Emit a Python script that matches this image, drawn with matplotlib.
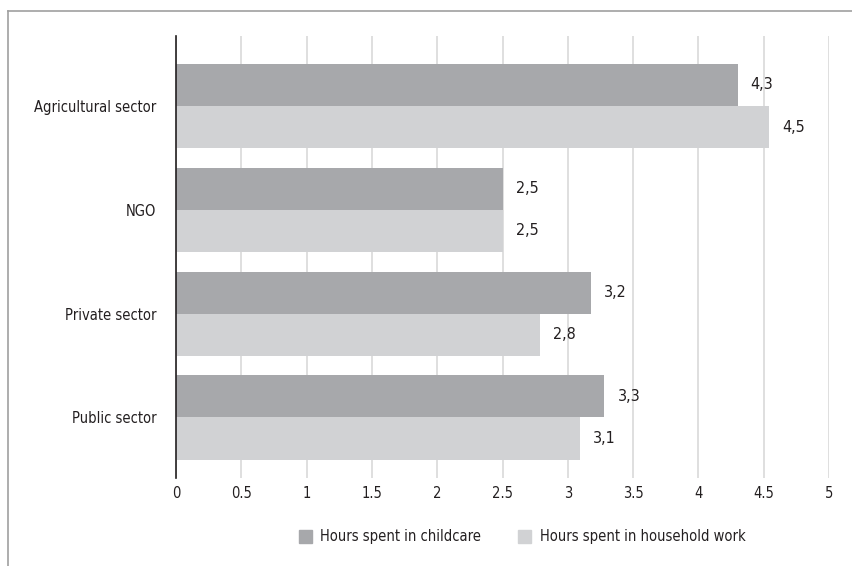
import numpy as np
import matplotlib.pyplot as plt
from matplotlib.patches import Patch
from matplotlib.lines import Line2D

# data
sectors = ["Agricultural sector", "NGO", "Private sector", "Public sector"]
childcare = [4.3, 2.5, 3.18, 3.28]
household = [4.54, 2.5, 2.79, 3.09]
childcare_lbl = ["4,3", "2,5", "3,2", "3,3"]
household_lbl = ["4,5", "2,5", "2,8", "3,1"]
xticks = [0, 0.5, 1, 1.5, 2, 2.5, 3, 3.5, 4, 4.5, 5]
xtick_lbl = ["0", "0.5", "1", "1.5", "2", "2.5", "3", "3.5", "4", "4.5", "5"]

plt.rcParams['font.family'] = ['DejaVu Sans']
plt.rcParams['font.stretch'] = 'condensed'
dark = "#a7a8ab"
light = "#d1d2d4"
txt = "#231f20"

W, H = 852, 566
fig = plt.figure(figsize=(W / 100, H / 100), dpi=100)
ax = fig.add_axes([176 / W, 1 - 478 / H, (829 - 176) / W, (478 - 36) / H])

y = np.arange(len(sectors))
bh = 0.405
ax.barh(y - bh / 2, childcare, height=bh, color=dark, zorder=2)
ax.barh(y + bh / 2, household, height=bh, color=light, zorder=2)

for i in range(len(sectors)):
    ax.text(childcare[i] + 0.1, y[i] - bh / 2, childcare_lbl[i], va="center",
            ha="left", fontsize=11.5, color=txt)
    ax.text(household[i] + 0.1, y[i] + bh / 2, household_lbl[i], va="center",
            ha="left", fontsize=11.5, color=txt)

ax.set_xlim(0, 5)
ax.set_ylim(3.583, -0.674)
ax.set_xticks(xticks)
ax.set_xticklabels(xtick_lbl)
ax.set_yticks(y)
ax.set_yticklabels(sectors)
ax.tick_params(axis="both", length=0, labelsize=10.5, labelcolor=txt)
ax.tick_params(axis="y", pad=14)
ax.tick_params(axis="x", pad=6)
ax.grid(axis="x", color="#d9d9d9", linewidth=1.2, zorder=0)
for s in ["top", "right", "bottom"]:
    ax.spines[s].set_visible(False)
ax.spines["left"].set_color("#231f20")
ax.spines["left"].set_linewidth(1.2)
ax.spines["left"].set_zorder(3)

handles = [Patch(color=dark, label="Hours spent in childcare"),
           Patch(color=light, label="Hours spent in household work")]
fig.legend(handles=handles, loc="center", bbox_to_anchor=(522 / W, 1 - 537 / H),
           ncol=2, frameon=False, fontsize=10.5, handlelength=0.9, handleheight=0.9,
           handletextpad=0.6, columnspacing=2.5, labelcolor=txt)

# outer frame (left and top edges)
fig.add_artist(Line2D([8 / W, 8 / W], [0, 1 - 11 / H], color="#a0a0a0", linewidth=1.2))
fig.add_artist(Line2D([8 / W, 1], [1 - 11 / H, 1 - 11 / H], color="#a0a0a0", linewidth=1.2))

fig.savefig("out.png", dpi=100)
